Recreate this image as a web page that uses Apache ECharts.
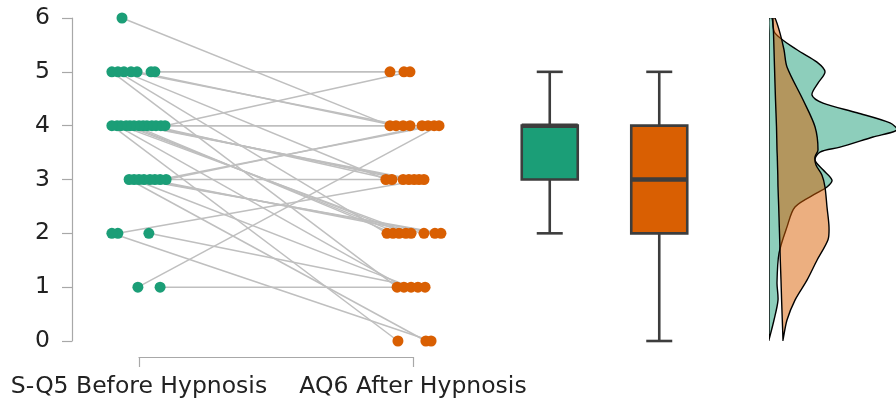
<!DOCTYPE html>
<html>
<head>
<meta charset="utf-8">
<script src="https://cdn.jsdelivr.net/npm/echarts@6/dist/echarts.min.js"></script>
<style>
  html, body { margin: 0; padding: 0; background: #fff; }
  #chart { width: 896px; height: 405px; }
</style>
</head>
<body>
<div id="chart"></div>
<script>
// paired answers, one entry per participant
const categories = ['S-Q5 Before Hypnosis', 'AQ6 After Hypnosis'];
const yTicks = [0, 1, 2, 3, 4, 5, 6];
const before = [5,5,5,5,5,5,5,6,4,4,4,4,4,4,4,4,4,4,4,4,4,3,3,3,3,3,3,3,3,2,2,2,1,1];
const after  = [5,5,4,4,3,2,1,4,5,4,4,3,3,3,3,2,2,2,2,1,0,4,4,3,2,2,2,1,0,3,1,0,4,1];
// horizontal jitter of each dot, in category units
const beforeJitter = [0.058,0.044,-0.007,-0.029,-0.055,-0.077,-0.099,-0.062,0.095,0.080,0.062,0.047,0.029,0.015,0,-0.018,-0.033,-0.047,-0.066,-0.080,-0.099,0.099,0.077,0.058,0.040,0.018,0,-0.018,-0.036,-0.077,0.036,-0.099,-0.004,0.077];
const afterJitter  = [-0.084,-0.033,-0.062,-0.036,-0.099,-0.095,-0.058,-0.084,-0.011,-0.011,0.033,-0.077,-0.036,-0.015,0.004,-0.073,-0.051,-0.026,-0.007,-0.033,-0.055,0.055,0.077,0.022,0.040,0.080,0.102,-0.007,0.047,0.040,0.018,0.066,0.095,0.044];

// box stats: [low whisker, q1, median, q3, high whisker]
const boxStats = [[2, 3, 4, 4, 5], [0, 2, 3, 4, 5]];

// half violins: level, left edge, right edge (density width)
const kdeLevels  = [6.00,5.72,5.41,5.18,5.00,4.79,4.57,4.42,4.24,4.05,3.92,3.79,3.60,3.51,3.36,3.18,2.99,2.86,2.75,2.49,2.12,1.63,1.08,0.76,0.39,0.02];
const kdeBefore  = [3,6,28,48,56,49,43,54,88,121,128,104,71,51,46,54,63,58,48,26,18,10,8,9,5,0];
const kdeLevelsAfter = [6.00,5.72,5.41,5.09,4.48,3.98,3.55,3.42,3.27,3.08,2.86,2.49,2.12,1.88,1.50,1.13,0.76,0.39,0.02];
const kdeAfterLeft   = [4,4.5,5,5.5,6.5,7.5,8,8.3,8.5,8.8,9,9.7,10.3,10.7,11.3,12,12.6,13.3,14];
const kdeAfter       = [6,11,15,18,34,46,49,46,47,53,56,58,60,59,48,38,26,18,14];

const TEAL = '#1b9e77';
const ORANGE = '#d95f02';
const AXIS_GRAY = '#a8a8a8';
const FONT = 'DejaVu Sans';

const chart = echarts.init(document.getElementById('chart'));

const pairLines = before.map((b, i) => ({
  type: 'line',
  xAxisIndex: 0, yAxisIndex: 0,
  data: [[beforeJitter[i], b], [1 + afterJitter[i], after[i]]],
  symbol: 'none',
  silent: true,
  z: 1,
  lineStyle: { color: '#bfbfbf', width: 1.5 }
}));

function boxItem(params, api) {
  const cat = api.value(0);
  const s = boxStats[cat];
  const color = cat === 0 ? TEAL : ORANGE;
  const half = 28, cap = 13;
  const pLo = api.coord([cat, s[0]]);
  const pQ1 = api.coord([cat, s[1]]);
  const pMed = api.coord([cat, s[2]]);
  const pQ3 = api.coord([cat, s[3]]);
  const pHi = api.coord([cat, s[4]]);
  const x = pMed[0];
  const stroke = { stroke: '#3d3d3d', lineWidth: 2.6 };
  return {
    type: 'group',
    children: [
      { type: 'line', shape: { x1: x, y1: pHi[1], x2: x, y2: pQ3[1] }, style: stroke },
      { type: 'line', shape: { x1: x, y1: pQ1[1], x2: x, y2: pLo[1] }, style: stroke },
      { type: 'line', shape: { x1: x - cap, y1: pHi[1], x2: x + cap, y2: pHi[1] }, style: stroke },
      { type: 'line', shape: { x1: x - cap, y1: pLo[1], x2: x + cap, y2: pLo[1] }, style: stroke },
      { type: 'rect', shape: { x: x - half, y: pQ3[1], width: half * 2, height: pQ1[1] - pQ3[1] },
        style: { fill: color, stroke: '#3d3d3d', lineWidth: 2.6 } },
      { type: 'line', shape: { x1: x - half, y1: pMed[1], x2: x + half, y2: pMed[1] },
        style: { stroke: '#3d3d3d', lineWidth: 4.5 } }
    ]
  };
}

function violinItem(levels, left, right, color) {
  return function (params, api) {
    const pts = [];
    levels.forEach((v, i) => pts.push(api.coord([right[i], v])));
    for (let i = levels.length - 1; i >= 0; i--) pts.push(api.coord([left ? left[i] : 0, levels[i]]));
    return {
      type: 'polygon',
      shape: { points: pts, smooth: 0.3 },
      style: { fill: color, opacity: 1, stroke: '#000', lineWidth: 1.4 }
    };
  };
}

const hiddenY = (idx) => ({ type: 'value', gridIndex: idx, min: 0, max: 6, show: false });

chart.setOption({
  animation: false,
  textStyle: { fontFamily: FONT },
  grid: [
    { left: 72, top: 18, width: 408, height: 323 },
    { left: 139, top: 340, width: 274, height: 17 },
    { left: 495, top: 18, width: 219, height: 323 },
    { left: 769, top: 18, width: 127, height: 323 }
  ],
  xAxis: [
    { type: 'value', gridIndex: 0, min: -0.2445, max: 1.2445, show: false },
    {
      type: 'category', gridIndex: 1, data: categories, boundaryGap: false,
      axisLine: { lineStyle: { color: AXIS_GRAY, width: 1.2 } },
      axisTick: { length: 10, interval: 0, lineStyle: { color: AXIS_GRAY, width: 1.2 } },
      axisLabel: {
        fontSize: 23.5, color: '#222', margin: 18, fontFamily: FONT,
        interval: 0, showMinLabel: true, showMaxLabel: true, hideOverlap: false
      }
    },
    { type: 'category', gridIndex: 2, data: categories, show: false },
    { type: 'value', gridIndex: 3, min: 0, max: 127, show: false }
  ],
  yAxis: [
    {
      type: 'value', gridIndex: 0, min: 0, max: 6, interval: 1,
      axisLine: { show: true, onZero: false, lineStyle: { color: AXIS_GRAY, width: 1.2 } },
      axisTick: { show: true, length: 10, lineStyle: { color: AXIS_GRAY, width: 1.2 } },
      splitLine: { show: false },
      axisLabel: {
        fontSize: 23.5, color: '#222', margin: 22, fontFamily: FONT,
        formatter: (v) => yTicks.includes(v) ? String(v) : ''
      }
    },
    { type: 'value', gridIndex: 1, show: false },
    hiddenY(2),
    hiddenY(3)
  ],
  series: [
    ...pairLines,
    {
      type: 'scatter', xAxisIndex: 0, yAxisIndex: 0, z: 3,
      symbolSize: 11, itemStyle: { color: TEAL, opacity: 1 },
      data: before.map((v, i) => [beforeJitter[i], v])
    },
    {
      type: 'scatter', xAxisIndex: 0, yAxisIndex: 0, z: 3,
      symbolSize: 11, itemStyle: { color: ORANGE, opacity: 1 },
      data: after.map((v, i) => [1 + afterJitter[i], v])
    },
    {
      type: 'custom', xAxisIndex: 2, yAxisIndex: 2,
      data: [[0], [1]],
      renderItem: boxItem
    },
    {
      type: 'custom', xAxisIndex: 3, yAxisIndex: 3, clip: true,
      data: [[0]],
      renderItem: violinItem(kdeLevels, null, kdeBefore, 'rgba(27,158,119,0.5)')
    },
    {
      type: 'custom', xAxisIndex: 3, yAxisIndex: 3, clip: true,
      data: [[0]],
      renderItem: violinItem(kdeLevelsAfter, kdeAfterLeft, kdeAfter, 'rgba(217,95,2,0.5)')
    }
  ]
});
</script>
</body>
</html>
